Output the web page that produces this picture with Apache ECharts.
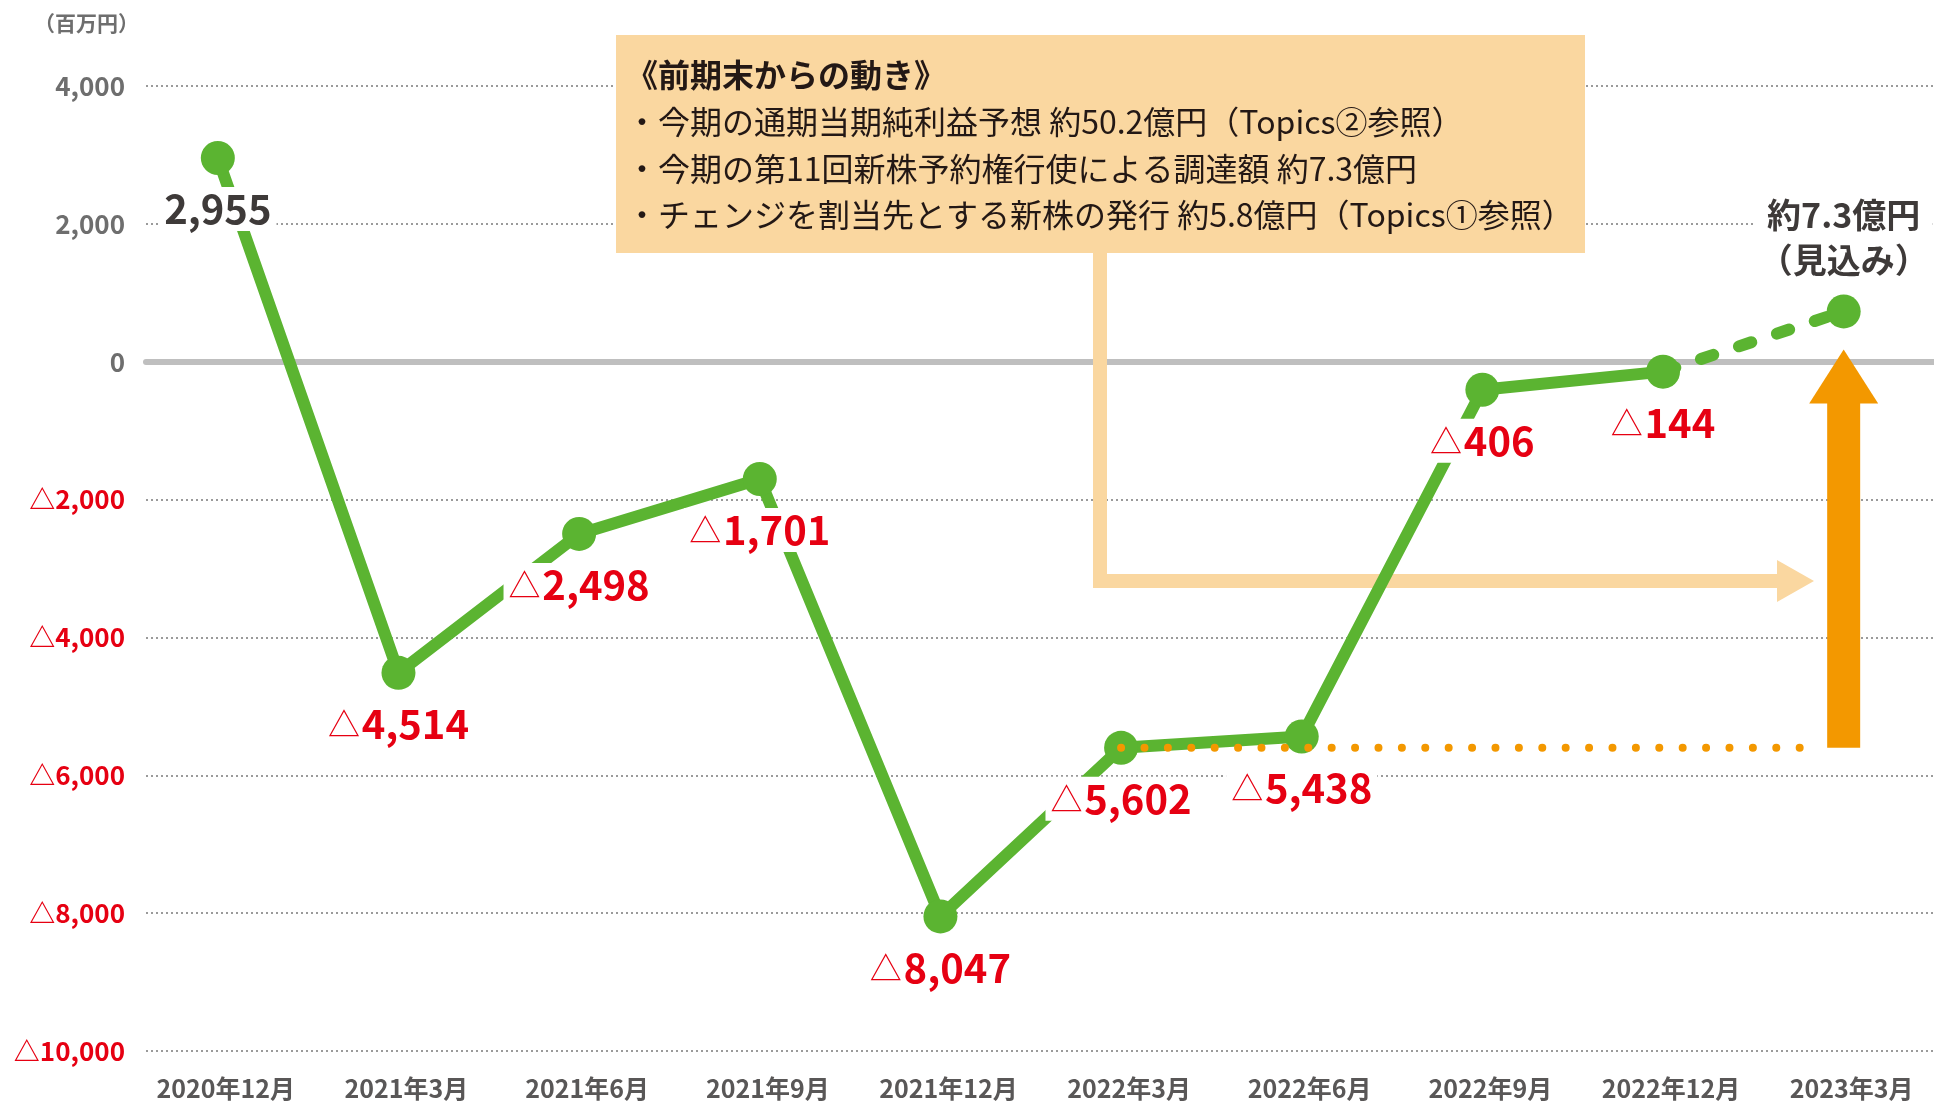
<!DOCTYPE html>
<html>
<head>
<meta charset="utf-8">
<script src="https://cdn.jsdelivr.net/npm/echarts@6/dist/echarts.min.js"></script>
<style>
  html, body { margin: 0; padding: 0; background: #fff; }
  #chart { width: 1934px; height: 1103px; }
</style>
</head>
<body>
<div id="chart"></div>
<script>
// data (百万円)
const categories = ['2020年12月', '2021年3月', '2021年6月', '2021年9月', '2021年12月',
  '2022年3月', '2022年6月', '2022年9月', '2022年12月', '2023年3月']
const actualValues = [2955, -4514, -2498, -1701, -8047, -5602, -5438, -406, -144, null]
const forecastValue = 730
const yMin = -10000
const yMax = 4000
const yStep = 2000

const unitLabel = '（百万円）'
const forecastText = ['約7.3億円', '（見込み）']
const boxTitle = '《前期末からの動き》'
const boxLines = [
  '・今期の通期当期純利益予想 約50.2億円（Topics②参照）',
  '・今期の第11回新株予約権行使による調達額 約7.3億円',
  '・チェンジを割当先とする新株の発行 約5.8億円（Topics①参照）'
]

const FONT = '"Noto Sans CJK JP", "Noto Sans", sans-serif'
const GREEN = '#5bb431'
const RED = '#e60012'
const ORANGE = '#f39800'
const LIGHT = '#fad7a0'

const fmt = v => Math.abs(v).toLocaleString('en-US')

// forecast series: starts from the last actual point
const lastIdx = actualValues.length - 2
const forecastData = categories.map((c, i) => {
  if (i === lastIdx) return { value: actualValues[i], symbol: 'none' }
  if (i === categories.length - 1) return forecastValue
  return '-'
})

const chart = echarts.init(document.getElementById('chart'))

const plotTop = 86
const plotBottom = 52

chart.setOption({
  animation: false,
  textStyle: { fontFamily: FONT },
  grid: [
    { left: 146, right: 0, top: plotTop, bottom: plotBottom },
    { left: 127.5, width: 1811, top: plotTop, bottom: plotBottom }
  ],
  xAxis: [
    {
      gridIndex: 0, type: 'value', min: 0, max: 1,
      axisLine: { show: true, onZero: true, lineStyle: { color: '#bfbfbf', width: 6 } },
      axisTick: { show: false }, axisLabel: { show: false }, splitLine: { show: false }
    },
    {
      gridIndex: 1, type: 'category', data: categories, boundaryGap: true,
      axisLine: { show: false }, axisTick: { show: false },
      axisLabel: {
        interval: 0, hideOverlap: false,
        margin: 25, color: '#595757', fontSize: 25, fontWeight: 'bold', fontFamily: FONT,
        padding: [0, 0, 0, 16]
      }
    }
  ],
  yAxis: [
    {
      gridIndex: 0, type: 'value', min: yMin, max: yMax, interval: yStep,
      name: unitLabel, nameLocation: 'end', nameGap: 52,
      nameTextStyle: { color: '#6e6e6e', fontSize: 21, fontWeight: 'bold', align: 'right', padding: [0, 7, 0, 0] },
      axisLine: { show: false }, axisTick: { show: false },
      axisLabel: {
        margin: 21,
        formatter: v => v < 0 ? '{neg|△' + fmt(v) + '}' : '{pos|' + fmt(v) + '}',
        rich: {
          neg: { color: RED, fontSize: 26, fontWeight: 'bold', fontFamily: FONT },
          pos: { color: '#6e6e6e', fontSize: 26, fontWeight: 'bold', fontFamily: FONT }
        }
      },
      splitLine: { show: true, lineStyle: { color: '#9a9a9a', width: 2, type: [2, 3] } }
    },
    {
      gridIndex: 1, type: 'value', min: yMin, max: yMax, interval: yStep,
      show: false, splitLine: { show: false }
    }
  ],
  series: [
    {
      name: '実績', type: 'line', xAxisIndex: 1, yAxisIndex: 1, z: 5,
      data: actualValues.map(v => v === null ? '-' : v),
      symbol: 'circle', symbolSize: 34,
      itemStyle: { color: GREEN },
      lineStyle: { color: GREEN, width: 12 },
      label: {
        show: true, position: 'bottom', distance: 12,
        backgroundColor: '#fff', padding: [0, 5],
        formatter: p => p.value < 0
          ? '{tri|△}{gap| }{neg|' + fmt(p.value) + '}'
          : '{pos|' + fmt(p.value) + '}',
        rich: {
          tri: { color: RED, fontSize: 32, fontWeight: 'normal', fontFamily: FONT, lineHeight: 44 },
          gap: { fontSize: 8, lineHeight: 44 },
          neg: { color: RED, fontSize: 40, fontWeight: 'bold', fontFamily: FONT, lineHeight: 44 },
          pos: { color: '#3e3a39', fontSize: 40, fontWeight: 'bold', fontFamily: FONT, lineHeight: 44 }
        }
      }
    },
    {
      name: '見込み', type: 'line', xAxisIndex: 1, yAxisIndex: 1, z: 5,
      data: forecastData,
      symbol: 'circle', symbolSize: 34,
      itemStyle: { color: GREEN },
      lineStyle: { color: GREEN, width: 12, type: [13, 27], cap: 'round' },
      label: {
        show: true, position: 'top', distance: 12,
        backgroundColor: '#fff', padding: [0, 4],
        formatter: () => forecastText.join('\n'),
        color: '#3e3a39', fontSize: 34, fontWeight: 'bold', fontFamily: FONT, lineHeight: 45
      }
    }
  ]
})

// annotations anchored to the data
const toPx = (i, v) => chart.convertToPixel({ seriesIndex: 0 }, [i, v])
const fromIdx = 5
const start = toPx(fromIdx, actualValues[fromIdx])
const lastCat = categories.length - 1
const arrowBase = toPx(lastCat, actualValues[fromIdx])
const fPt = toPx(lastCat, forecastValue)
const tipY = fPt[1] + 38
const headLen = 54
const headW = 69
const shaftW = 33

const box = { x: 616, y: 35, w: 969, h: 218 }
const elbowX = 1100
const elbowY = 581
const elbowTip = 1814

chart.setOption({
  graphic: [
    {
      type: 'rect', z: 1,
      shape: { x: box.x, y: box.y, width: box.w, height: box.h },
      style: { fill: LIGHT }
    },
    {
      type: 'text', z: 2, x: 626, y: 75,
      style: { text: boxTitle, fill: '#231815', font: 'bold 32px ' + FONT, verticalAlign: 'middle' }
    },
    ...boxLines.map((t, k) => ({
      type: 'text', z: 2, x: 626, y: 122 + k * 46.5,
      style: { text: t, fill: '#231815', font: '32px ' + FONT, verticalAlign: 'middle' }
    })),
    {
      type: 'polyline', z: 1,
      shape: { points: [[elbowX, box.y + box.h], [elbowX, elbowY], [elbowTip - 36, elbowY]] },
      style: { stroke: LIGHT, lineWidth: 14, fill: null, lineJoin: 'miter' }
    },
    {
      type: 'polygon', z: 1,
      shape: { points: [[elbowTip - 37, elbowY - 21], [elbowTip, elbowY], [elbowTip - 37, elbowY + 21]] },
      style: { fill: LIGHT }
    },
    {
      type: 'line', z: 10,
      shape: { x1: start[0], y1: start[1], x2: arrowBase[0] - 40, y2: start[1] },
      style: { stroke: ORANGE, lineWidth: 8, lineDash: [0, 23.4], lineCap: 'round' }
    },
    {
      type: 'rect', z: 10,
      shape: { x: arrowBase[0] - shaftW / 2, y: tipY + headLen - 1, width: shaftW, height: arrowBase[1] - tipY - headLen + 1 },
      style: { fill: ORANGE }
    },
    {
      type: 'polygon', z: 10,
      shape: { points: [[arrowBase[0] - headW / 2, tipY + headLen], [arrowBase[0], tipY], [arrowBase[0] + headW / 2, tipY + headLen]] },
      style: { fill: ORANGE }
    }
  ]
})

window.addEventListener('resize', () => chart.resize())
</script>
</body>
</html>
